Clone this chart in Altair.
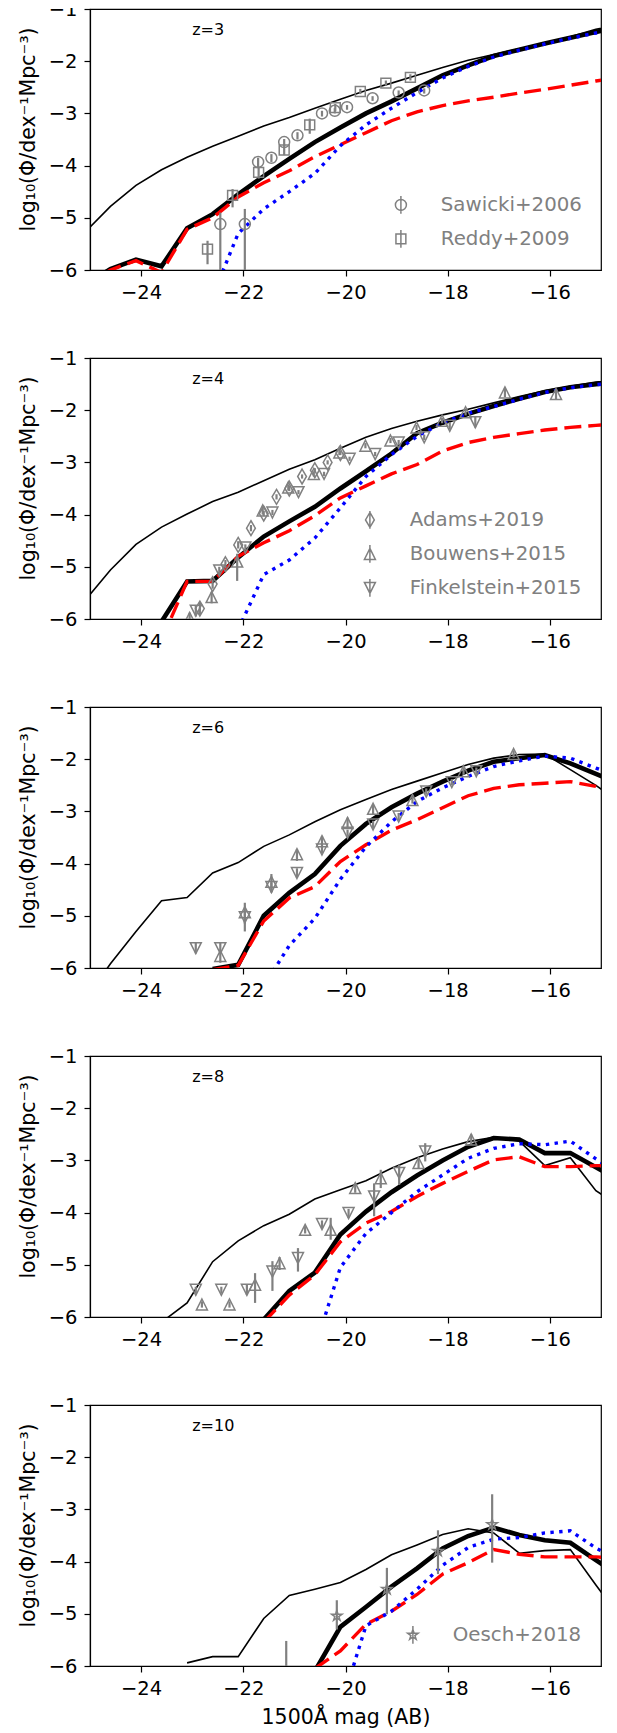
import altair as alt
import pandas as pd

# ---------------- model curves (x grid in 1500A AB mag) ----------------
XGRID = [-25.1, -24.6, -24.1, -23.6, -23.1, -22.6, -22.1, -21.6, -21.1, -20.6, -20.1,
         -19.6, -19.1, -18.6, -18.1, -17.6, -17.1, -16.6, -16.1, -15.6, -15.1, -14.6]
N = None

THIN_Z3 = [-5.28, -4.78, -4.38, -4.08, -3.84, -3.63, -3.44, -3.24, -3.08, -2.9, -2.73,
           -2.56, -2.42, -2.27, -2.12, -1.98, -1.87, -1.76, -1.65, -1.53, -1.39, -1.28]
THICK_Z3 = [-6.3, -5.98, -5.8, -5.93, -5.2, -4.93, -4.55, -4.2, -3.87, -3.55, -3.27,
            -3.0, -2.77, -2.52, -2.27, -2.08, -1.9, -1.78, -1.66, -1.55, -1.44, -1.33]
RED_Z3 = [-6.3, -6.0, -5.82, -6.05, -5.22, -5.0, -4.6, -4.33, -4.1, -3.83, -3.6,
          -3.37, -3.14, -2.97, -2.85, -2.76, -2.69, -2.61, -2.54, -2.46, -2.38, -2.3]
BLUE_Z3 = [N, N, N, N, N, -6.5, -5.3, -4.83, -4.5, -4.15, -3.62,
           -3.22, -2.9, -2.6, -2.32, -2.1, -1.92, -1.79, -1.67, -1.56, -1.46, -1.35]

THIN_Z4 = [-5.65, -5.06, -4.57, -4.24, -3.99, -3.75, -3.57, -3.35, -3.13, -2.95, -2.73,
           -2.52, -2.35, -2.21, -2.09, -1.98, -1.86, -1.74, -1.63, -1.54, -1.46, -1.41]
THICK_Z4 = [N, N, N, -6.05, -5.28, -5.27, -4.82, -4.42, -4.13, -3.85, -3.5,
            -3.17, -2.83, -2.44, -2.24, -2.07, -1.92, -1.78, -1.65, -1.56, -1.5, -1.46]
RED_Z4 = [N, N, N, -6.4, -5.28, -5.28, -4.8, -4.54, -4.31, -4.02, -3.68,
          -3.45, -3.22, -3.04, -2.78, -2.62, -2.52, -2.45, -2.38, -2.33, -2.29, -2.26]
BLUE_Z4 = [N, N, N, N, N, N, -6.2, -5.15, -4.87, -4.45, -3.87,
           -3.27, -2.85, -2.5, -2.24, -2.06, -1.93, -1.79, -1.66, -1.57, -1.51, -1.47]

THIN_Z6 = [-6.6, -5.92, -5.3, -4.71, -4.65, -4.18, -3.98, -3.67, -3.45, -3.2, -2.97,
           -2.77, -2.58, -2.42, -2.26, -2.1, -1.98, -1.91, -1.9, -2.2, -2.5, -2.85]
THICK_Z6 = [N, N, N, N, N, -6.02, -5.94, -5.0, -4.56, -4.2, -3.66,
            -3.24, -2.92, -2.66, -2.43, -2.22, -2.05, -1.98, -1.92, -2.08, -2.28, -2.48]
RED_Z6 = [N, N, N, N, N, -6.03, -5.95, -5.1, -4.66, -4.44, -3.96,
          -3.64, -3.36, -3.16, -2.93, -2.7, -2.56, -2.49, -2.46, -2.43, -2.52, -2.7]
BLUE_Z6 = [N, N, N, N, N, N, N, -6.35, -5.57, -5.05, -4.3,
           -3.68, -3.2, -2.81, -2.55, -2.33, -2.14, -2.03, -1.94, -1.98, -2.17, -2.35]

THIN_Z8 = [N, N, -7.0, -6.1, -5.73, -4.94, -4.54, -4.25, -4.03, -3.74, -3.56,
           -3.39, -3.15, -2.95, -2.78, -2.64, -2.56, -2.63, -3.1, -2.95, -3.58, -3.9]
THICK_Z8 = [N, N, N, N, N, N, N, -6.05, -5.5, -5.15, -4.42,
            -3.98, -3.61, -3.29, -3.0, -2.74, -2.57, -2.6, -2.86, -2.86, -3.13, -3.4]
RED_Z8 = [N, N, N, N, N, N, N, -6.1, -5.58, -5.19, -4.56,
          -4.2, -3.98, -3.69, -3.44, -3.21, -2.99, -2.93, -3.12, -3.12, -3.1, -3.1]
BLUE_Z8 = [N, N, N, N, N, N, N, N, N, -6.6, -5.05,
           -4.4, -4.0, -3.6, -3.28, -2.96, -2.77, -2.68, -2.7, -2.63, -2.97, -3.3]

THIN_Z10 = [N, N, N, N, -5.94, -5.82, -5.82, -5.09, -4.65, -4.53, -4.4,
            -4.15, -3.87, -3.68, -3.48, -3.37, -3.45, -3.84, -3.79, -3.77, -4.45, -5.1]
THICK_Z10 = [N, N, N, N, N, N, N, N, N, -6.1, -5.25,
             -4.87, -4.48, -4.13, -3.75, -3.51, -3.35, -3.49, -3.59, -3.64, -3.97, -4.3]
RED_Z10 = [N, N, N, N, N, N, N, N, N, -6.05, -5.71,
           -5.2, -4.95, -4.63, -4.24, -4.02, -3.77, -3.86, -3.91, -3.91, -3.91, -3.95]
BLUE_Z10 = [N, N, N, N, N, N, N, N, N, N, -6.8,
            -5.23, -4.95, -4.53, -4.07, -3.73, -3.57, -3.54, -3.45, -3.41, -3.74, -4.0]

# ---------------- observational data ----------------
SAW_X = [-22.45, -21.97, -21.71, -21.45, -21.2, -20.94, -20.46, -20.21, -19.97, -19.47, -18.96, -18.46]
SAW_Y = [-5.12, -5.12, -3.93, -3.85, -3.55, -3.42, -3.0, -2.95, -2.88, -2.71, -2.6, -2.56]
SAW_LO = [-6.5, -6.5, -4.03, -3.93, -3.62, -3.5, -3.06, -3.0, -2.93, -2.76, -2.65, -2.62]
SAW_HI = [-4.9, -4.83, -3.85, -3.78, -3.49, -3.36, -2.95, -2.9, -2.84, -2.67, -2.56, -2.52]

RED09_X = [-22.7, -22.21, -21.7, -21.2, -20.7, -20.2, -19.71, -19.21, -18.73]
RED09_Y = [-5.6, -4.57, -4.13, -3.7, -3.22, -2.89, -2.58, -2.42, -2.31]
RED09_LO = [-5.89, -4.8, -4.25, -3.8, -3.39, -2.96, -2.63, -2.47, -2.37]
RED09_HI = [-5.44, -4.45, -4.03, -3.6, -3.1, -2.82, -2.53, -2.37, -2.25]

ADA_X = [-22.85, -22.6, -22.35, -22.1, -21.85, -21.6, -21.35, -21.1, -20.85, -20.6, -20.35, -20.1]
ADA_Y = [-5.8, -5.33, -4.95, -4.58, -4.26, -3.98, -3.66, -3.5, -3.27, -3.15, -3.0, -2.82]
ADA_LO = [-5.92, -5.42, -5.03, -4.65, -4.32, -4.03, -3.71, -3.55, -3.31, -3.19, -3.04, -2.86]
ADA_HI = [-5.68, -5.24, -4.87, -4.51, -4.2, -3.93, -3.61, -3.45, -3.23, -3.11, -2.96, -2.78]

B4_X = [-23.05, -22.62, -22.12, -21.62, -21.12, -20.62, -20.12, -19.61, -19.12, -18.61, -18.11, -17.65, -16.88, -15.88]
B4_Y = [-5.98, -5.58, -4.9, -3.92, -3.48, -3.22, -2.81, -2.68, -2.58, -2.33, -2.2, -2.04, -1.66, -1.69]
B4_LO = [-6.1, -5.7, -5.27, -4.0, -3.54, -3.27, -2.86, -2.73, -2.63, -2.38, -2.25, -2.1, -1.75, -1.8]
B4_HI = [-5.88, -5.48, -4.75, -3.85, -3.42, -3.17, -2.76, -2.63, -2.53, -2.28, -2.15, -1.98, -1.58, -1.6]

F4_X = [-22.93, -22.47, -21.96, -21.43, -20.92, -20.42, -19.92, -19.42, -18.96, -18.46, -17.96, -17.46]
F4_Y = [-5.84, -5.07, -4.63, -3.96, -3.57, -3.22, -2.93, -2.84, -2.62, -2.52, -2.3, -2.23]
F4_LO = [-5.95, -5.15, -4.69, -4.01, -3.61, -3.26, -2.97, -2.88, -2.67, -2.57, -2.37, -2.33]
F4_HI = [-5.74, -5.0, -4.57, -3.91, -3.53, -3.18, -2.89, -2.8, -2.57, -2.47, -2.23, -2.13]

B6_X = [-22.45, -21.97, -21.45, -20.95, -20.46, -19.96, -19.46, -18.69, -17.69, -16.71]
B6_Y = [-5.77, -4.93, -4.35, -3.82, -3.57, -3.22, -2.95, -2.78, -2.23, -1.9]
B6_LO = [-5.9, -5.3, -4.55, -3.95, -3.68, -3.32, -3.05, -2.85, -2.3, -1.97]
B6_HI = [-5.65, -4.75, -4.2, -3.72, -3.47, -3.12, -2.87, -2.71, -2.16, -1.83]

F6_X = [-22.93, -22.45, -21.97, -21.45, -20.95, -20.46, -19.96, -19.46, -18.96, -18.42, -17.92, -17.44]
F6_Y = [-5.62, -5.62, -5.03, -4.45, -4.18, -3.73, -3.41, -3.25, -3.1, -2.62, -2.44, -2.23]
F6_LO = [-5.72, -5.72, -5.15, -4.55, -4.27, -3.8, -3.47, -3.32, -3.17, -2.68, -2.5, -2.3]
F6_HI = [-5.52, -5.52, -4.92, -4.36, -4.09, -3.66, -3.35, -3.18, -3.03, -2.56, -2.38, -2.16]

F8_X = [-22.93, -22.43, -21.93, -21.43, -20.93, -20.46, -19.94, -19.44, -18.95, -18.44]
F8_Y = [-5.48, -5.48, -5.48, -5.13, -4.87, -4.22, -4.01, -3.69, -3.24, -2.83]
F8_LO = [-5.55, -5.55, -5.58, -5.5, -5.13, -4.3, -4.1, -4.07, -3.47, -3.02]
F8_HI = [-5.42, -5.42, -5.38, -4.93, -4.68, -4.15, -3.93, -3.44, -3.08, -2.67]

B8_X = [-22.81, -22.27, -21.77, -21.29, -20.79, -20.29, -19.81, -19.31, -18.57, -17.54]
B8_Y = [-5.76, -5.76, -5.38, -4.97, -4.33, -4.33, -3.53, -3.34, -3.05, -2.6]
B8_LO = [-5.82, -5.82, -5.73, -5.1, -4.4, -4.52, -3.62, -3.53, -3.15, -2.7]
B8_HI = [-5.7, -5.7, -5.16, -4.85, -4.26, -4.1, -3.44, -3.18, -2.95, -2.5]

OE_X = [-21.16, -20.17, -19.19, -18.19, -17.13]
OE_Y = [-6.4, -5.04, -4.53, -3.8, -3.29]
OE_LO = [-7.0, -5.3, -5.01, -4.24, -4.02]
OE_HI = [-5.52, -4.74, -4.12, -3.4, -2.71]

# ---------------- labels ----------------
PANEL_LABELS = ["z=3", "z=4", "z=6", "z=8", "z=10"]
LABEL_X = [-23.0]
LABEL_Y = [-1.5]
X_TICKS = [-24, -22, -20, -18, -16]
Y_TICKS = [-6, -5, -4, -3, -2, -1]
Y_TITLE = "log₁₀(Φ/dex⁻¹Mpc⁻³)"
X_TITLE = "1500Å mag (AB)"

# ---------------- marker shapes (unit SVG paths) ----------------
CIRCLE = "M-1,0A1,1 0 1,0 1,0A1,1 0 1,0 -1,0Z"
SQUARE = "M-0.9,-0.9L0.9,-0.9L0.9,0.9L-0.9,0.9Z"
THIN_DIAMOND = "M0,-1.35L0.8,0L0,1.35L-0.8,0Z"
TRI_UP = "M0,-1L1,1L-1,1Z"
TRI_DOWN = "M0,1L1,-1L-1,-1Z"
STAR = ("M0,-1L0.225,-0.309L0.951,-0.309L0.363,0.118L0.588,0.809L0,0.382"
        "L-0.588,0.809L-0.363,0.118L-0.951,-0.309L-0.225,-0.309Z")
BAR = "M0,-1.6L0,1.6"

GRAY = "#808080"
MSIZE = 121

XS = alt.Scale(domain=[-25, -15], nice=False, zero=False)
YS = alt.Scale(domain=[-6, -1], nice=False, zero=False)


def line_df(thin, thick, red, blue):
    rows = []
    for name, vals in (("thin", thin), ("thick", thick), ("red", red), ("blue", blue)):
        for x, y in zip(XGRID, vals):
            if y is not None:
                rows.append({"x": x, "y": y, "s": name})
    return pd.DataFrame(rows)


def obs_df(name, xs, ys, lo, hi):
    return pd.DataFrame({"x": xs, "y": ys, "lo": lo, "hi": hi, "set": name})


def panel(idx, curves, obs, legend, bottom):
    xaxis = alt.Axis(values=X_TICKS, format="d", tickCount=5)
    xenc = alt.X("x:Q", scale=XS, axis=xaxis, title=X_TITLE if bottom else None)
    yenc = alt.Y("y:Q", scale=YS,
                 axis=alt.Axis(values=Y_TICKS, format="d", labelFlush=False,
                               titlePadding=10, titleY=120),
                 title=Y_TITLE)
    ldf = line_df(*curves)
    base = alt.Chart(ldf).encode(x=xenc, y=yenc)
    layers = [
        base.mark_line(color="black", strokeWidth=1.6, clip=True).transform_filter(alt.datum.s == "thin"),
        base.mark_line(color="black", strokeWidth=4.6, clip=True).transform_filter(alt.datum.s == "thick"),
        base.mark_line(color="#ff0000", strokeWidth=3.4, strokeDash=[17, 7], clip=True).transform_filter(alt.datum.s == "red"),
        base.mark_line(color="#0000ff", strokeWidth=3.4, strokeDash=[3.4, 5.4], clip=True).transform_filter(alt.datum.s == "blue"),
    ]
    for (name, shape, xs, ys, lo, hi) in obs:
        odf = obs_df(name, xs, ys, lo, hi)
        oc = alt.Chart(odf)
        layers.append(oc.mark_rule(color=GRAY, strokeWidth=2.2, clip=True).encode(
            x=alt.X("x:Q", scale=XS), y=alt.Y("lo:Q", scale=YS), y2="hi:Q"))
        layers.append(oc.mark_point(shape=shape, filled=False, color=GRAY, size=MSIZE,
                                    strokeWidth=1.5, opacity=1, clip=True).encode(
            x=alt.X("x:Q", scale=XS), y=alt.Y("y:Q", scale=YS)))
    if legend:
        names = [o[0] for o in obs]
        paths = [o[1] + BAR for o in obs]
        allobs = pd.concat([obs_df(o[0], o[2], o[3], o[4], o[5]) for o in obs])
        layers.append(alt.Chart(allobs).mark_point(filled=False, color=GRAY, size=MSIZE,
                                                   strokeWidth=1.5, opacity=0, clip=True).encode(
            x=alt.X("x:Q", scale=XS), y=alt.Y("y:Q", scale=YS),
            shape=alt.Shape("set:N", scale=alt.Scale(domain=names, range=paths),
                            legend=alt.Legend(title=None, orient="bottom-right", offset=19,
                                              padding=0, labelFontSize=19.8, labelColor=GRAY,
                                              labelFont="DejaVu Sans", labelOffset=30,
                                              labelLimit=400,
                                              symbolOpacity=1, symbolStrokeColor=GRAY,
                                              symbolFillColor="transparent",
                                              symbolStrokeWidth=1.5, symbolSize=MSIZE,
                                              rowPadding=10))))
    tdf = pd.DataFrame({"x": LABEL_X, "y": LABEL_Y, "t": [PANEL_LABELS[idx]]})
    layers.append(alt.Chart(tdf).mark_text(align="left", baseline="alphabetic", fontSize=16,
                                           font="DejaVu Sans", color="black").encode(
        x=alt.X("x:Q", scale=XS), y=alt.Y("y:Q", scale=YS), text="t:N"))
    return alt.layer(*layers).properties(width=511, height=261)


P = []
P.append(panel(0, (THIN_Z3, THICK_Z3, RED_Z3, BLUE_Z3),
               [("Sawicki+2006", CIRCLE, SAW_X, SAW_Y, SAW_LO, SAW_HI),
                ("Reddy+2009", SQUARE, RED09_X, RED09_Y, RED09_LO, RED09_HI)], True, False))
P.append(panel(1, (THIN_Z4, THICK_Z4, RED_Z4, BLUE_Z4),
               [("Adams+2019", THIN_DIAMOND, ADA_X, ADA_Y, ADA_LO, ADA_HI),
                ("Bouwens+2015", TRI_UP, B4_X, B4_Y, B4_LO, B4_HI),
                ("Finkelstein+2015", TRI_DOWN, F4_X, F4_Y, F4_LO, F4_HI)], True, False))
P.append(panel(2, (THIN_Z6, THICK_Z6, RED_Z6, BLUE_Z6),
               [("Bouwens+2015", TRI_UP, B6_X, B6_Y, B6_LO, B6_HI),
                ("Finkelstein+2015", TRI_DOWN, F6_X, F6_Y, F6_LO, F6_HI)], False, False))
P.append(panel(3, (THIN_Z8, THICK_Z8, RED_Z8, BLUE_Z8),
               [("Bouwens+2015", TRI_UP, B8_X, B8_Y, B8_LO, B8_HI),
                ("Finkelstein+2015", TRI_DOWN, F8_X, F8_Y, F8_LO, F8_HI)], False, False))
P.append(panel(4, (THIN_Z10, THICK_Z10, RED_Z10, BLUE_Z10),
               [("Oesch+2018", STAR, OE_X, OE_Y, OE_LO, OE_HI)], True, True))

chart = alt.vconcat(*P, spacing=88, bounds="flush").resolve_scale(shape="independent").properties(
    padding={"left": 9, "top": -10, "right": 5, "bottom": 5}
).configure(font="DejaVu Sans").configure_view(
    stroke="black", strokeWidth=1.2
).configure_axis(
    domainColor="black", domainWidth=1.2, tickColor="black", tickWidth=1.2, tickSize=6,
    labelFont="DejaVu Sans", labelFontSize=19.5, labelColor="black", labelPadding=7,
    titleFont="DejaVu Sans", titleFontSize=20.5, titleFontWeight="normal", titleColor="black",
    grid=False
).configure_axisX(titlePadding=10)

chart.save("out.html", embed_options={"renderer": "svg", "actions": False})
